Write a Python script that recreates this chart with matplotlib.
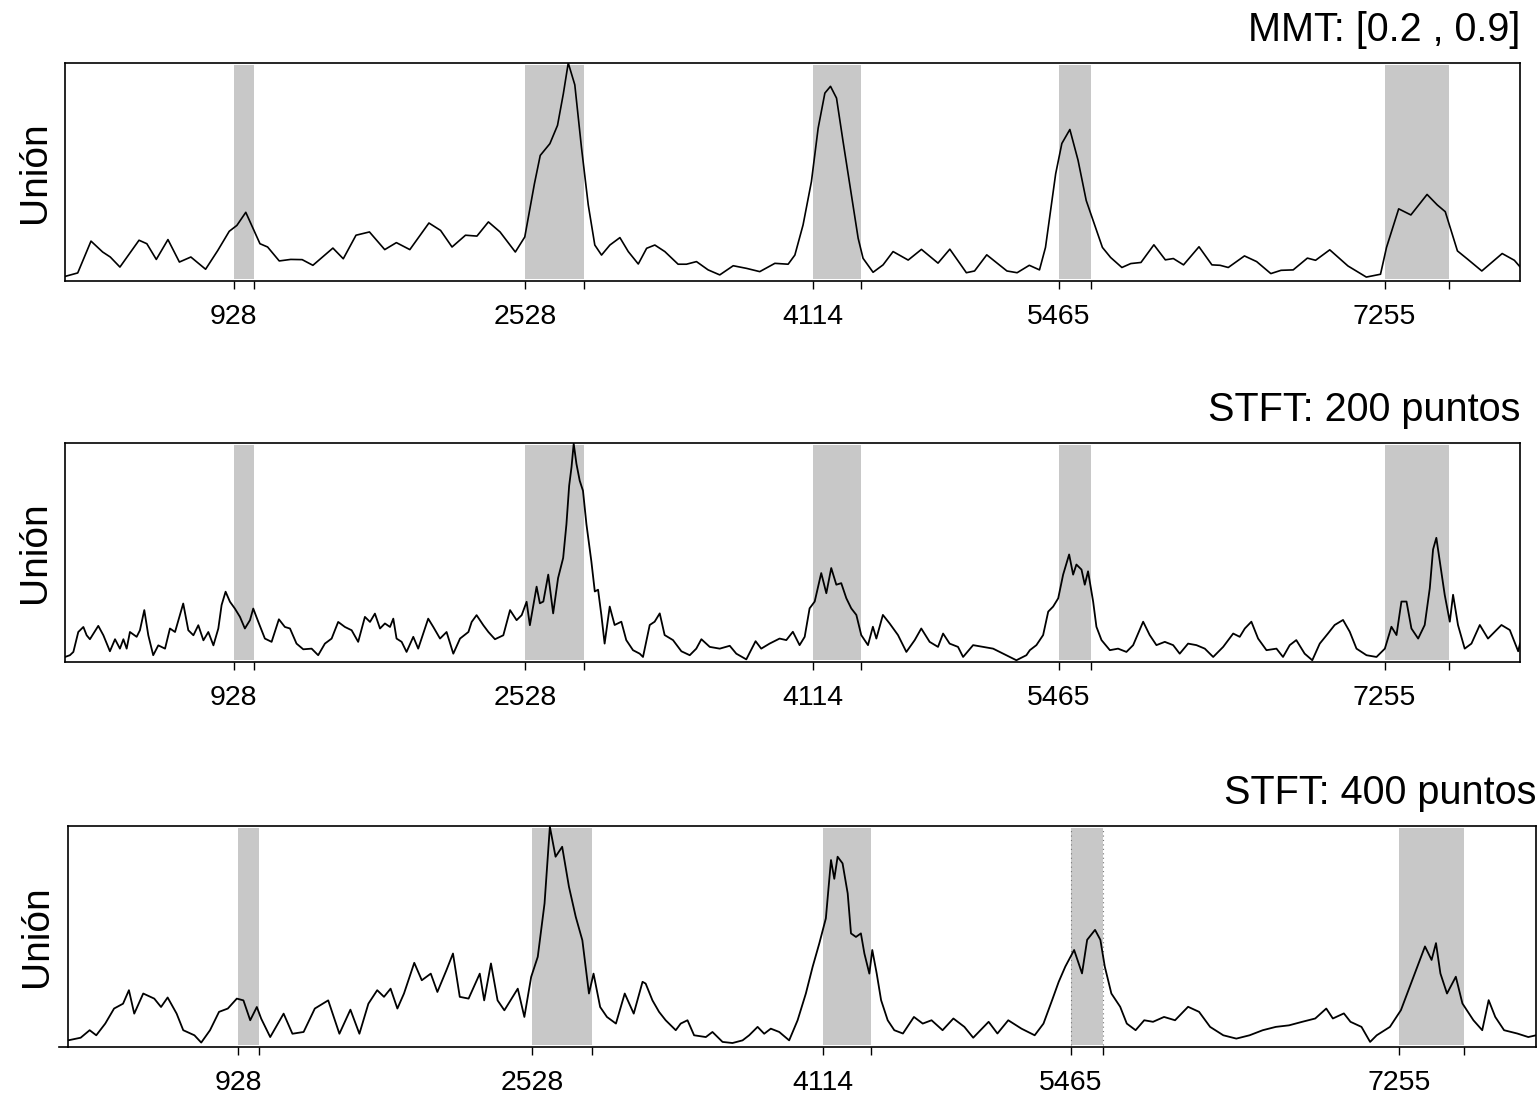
import numpy as np
import matplotlib.pyplot as plt

plt.rcParams['font.family'] = ['Liberation Sans', 'DejaVu Sans']

# shaded event windows (start, end) -- same in all three panels
region_start = [928, 2528, 4114, 5465, 7255]
region_end = [1039, 2855, 4378, 5643, 7608]

# MMT [0.2, 0.9] (smooth curve, 0-100 scale)
mmt_x = [0, 70, 143, 207, 249, 302, 407, 450, 502, 566, 629, 692, 773, 840, 903, 945, 994,
         1030, 1072, 1114, 1178, 1241, 1304, 1363, 1473, 1530, 1600, 1674, 1758, 1822, 1896,
         2001, 2065, 2128, 2202, 2265, 2328, 2392, 2476, 2528, 2581, 2613, 2666, 2708, 2740,
         2767, 2803, 2840, 2877, 2913, 2950, 2996, 3051, 3097, 3152, 3198, 3243, 3298, 3371,
         3417, 3472, 3536, 3600, 3674, 3747, 3820, 3903, 3976, 4013, 4058, 4104, 4141, 4178,
         4209, 4242, 4278, 4324, 4361, 4388, 4443, 4498, 4553, 4636, 4709, 4800, 4865, 4956,
         5001, 5068, 5179, 5235, 5302, 5358, 5391, 5447, 5481, 5525, 5570, 5615, 5659, 5704,
         5749, 5811, 5860, 5916, 5987, 6050, 6094, 6150, 6235, 6306, 6351, 6396, 6485, 6552,
         6630, 6686, 6753, 6831, 6876, 6954, 7054, 7155, 7233, 7266, 7333, 7400, 7489, 7545,
         7589, 7656, 7712, 7790, 7902, 7969, 8000]
mmt_y = [2.1, 3.7, 18.3, 13.3, 11, 6.4, 18.7, 17.1, 9.9, 19, 8.7, 11, 5.4, 14, 22.8, 25.5, 31.5,
         24.8, 17.1, 15.6, 9.2, 9.9, 9.8, 7.2, 15.1, 10.2, 21, 22.5, 14.4, 17.6, 14.4,
         26.6, 23.2, 15.6, 21, 20.6, 27.1, 22.5, 13.3, 20.2, 44.6, 57.6, 63, 71.4, 85.9,
         100, 90, 61, 34.9, 16.5, 11.9, 16.5, 19.9, 13.5, 7.8, 15, 16.5, 13.5, 7.7,
         7.7, 8.9, 5.1, 2.8, 7, 5.8, 4.3, 8.1, 7.7, 11.9, 25.7, 45.6, 70.1, 86.2,
         89.3, 83.9, 64, 39.5, 19.6, 10.4, 4, 7.4, 13.5, 9.6, 14.5, 8.2, 14.6, 3.8,
         4.6, 12, 4.6, 3.8, 7.2, 5.1, 15.4, 49.2, 63.1, 69.5, 55.4, 36.9, 26.2, 15.4,
         10.8, 6.2, 8, 8.5, 16.6, 9.7, 10.3, 7.4, 15.7, 7.4, 7.2, 6.2, 11.5, 8.9,
         3.4, 4.9, 5.1, 10.5, 9.5, 14.3, 6.9, 1.8, 3.1, 15.4, 33.1, 30.3, 39.7, 34.9,
         31.8, 13.8, 10, 4.6, 12.6, 9.5, 6.5]

# STFT 200 puntos
stft200_x = [0, 27, 46, 73, 101, 119, 137, 183, 211, 247, 275, 302, 321, 339, 357, 394, 412, 436,
             458, 485, 513, 550, 577, 605, 650, 678, 706, 733, 761, 788, 816, 843, 861, 883, 907,
             934, 962, 989, 1017, 1035, 1063, 1099, 1136, 1176, 1209, 1237, 1273, 1310, 1356,
             1392, 1429, 1466, 1502, 1539, 1576, 1612, 1649, 1677, 1704, 1732, 1759, 1787, 1805,
             1823, 1851, 1878, 1915, 1942, 1970, 1997, 2025, 2062, 2098, 2135, 2172, 2218, 2236,
             2263, 2300, 2328, 2364, 2410, 2447, 2483, 2511, 2538, 2556, 2593, 2611, 2630, 2657,
             2684, 2711, 2739, 2757, 2772, 2785, 2797, 2812, 2830, 2848, 2867, 2894, 2913, 2931,
             2949, 2967, 2995, 3022, 3059, 3086, 3123, 3160, 3178, 3215, 3242, 3270, 3297, 3343,
             3389, 3435, 3471, 3499, 3545, 3600, 3655, 3691, 3746, 3797, 3828, 3874, 3929, 3966,
             4002, 4039, 4067, 4094, 4122, 4158, 4186, 4213, 4241, 4268, 4296, 4323, 4351, 4378,
             4415, 4442, 4461, 4497, 4534, 4580, 4626, 4672, 4708, 4754, 4800, 4828, 4864, 4910,
             4938, 4993, 5048, 5103, 5158, 5231, 5286, 5305, 5341, 5378, 5406, 5433, 5461, 5488,
             5521, 5543, 5561, 5589, 5607, 5625, 5653, 5671, 5699, 5745, 5790, 5836, 5873, 5928,
             5964, 6001, 6047, 6093, 6129, 6175, 6221, 6267, 6313, 6368, 6423, 6459, 6487, 6523,
             6560, 6606, 6661, 6697, 6734, 6770, 6816, 6858, 6899, 6944, 6981, 7027, 7064, 7101,
             7156, 7211, 7257, 7293, 7321, 7348, 7376, 7403, 7440, 7476, 7504, 7522, 7540, 7559,
             7586, 7614, 7632, 7659, 7696, 7733, 7779, 7824, 7898, 7944, 7990, 8000]
stft200_y = [2.3, 3.1, 4.6, 13.7, 16, 12.2, 10.4, 16.5, 12.2, 4.9, 10.4, 6.1, 10.4, 6.1, 13.7, 11.5, 14.5, 23.7,
             12.2, 3.1, 7.6, 6.1, 15.3, 13.7, 26.7, 14.5, 12.2, 16.8, 9.9, 13.7, 7.6, 15.3, 26, 32.1, 27.5,
             24.4, 20.6, 15.3, 19.1, 24.4, 18.3, 10.7, 9.2, 19.5, 16, 15.3, 8.4, 5.8, 6.1,
             3.1, 8.4, 10.7, 18.3, 16, 14.5, 9.2, 20.6, 18.3, 22.1, 15.3, 17.6, 16, 19.8,
             10.7, 9.2, 4.6, 11.5, 6.1, 13, 19.8, 16, 10.7, 13.7, 3.8, 10.7, 13.7, 18.3,
             21.4, 16.8, 13.7, 10.4, 12.2, 23.7, 19.1, 21.4, 27.5, 16.8, 34.4, 26.8, 27.6, 39.9,
             22.2, 38.3, 47.5, 62.9, 80.5, 89, 99.7, 90.5, 82.8, 78.2, 62.9, 46, 32.2, 33,
             21.5, 8.4, 25.3, 16.9, 18.4, 10, 5.4, 3.8, 2.3, 16.9, 18.4, 22.2, 12.3, 10,
             4.9, 3.1, 6.1, 10.4, 6.9, 6.1, 7.4, 3.8, 1.2, 9.5, 6.1, 8.4, 10.7, 10,
             13.8, 7.7, 11.5, 24.5, 27.6, 40.6, 31.4, 42.9, 35.3, 36, 29.1, 24.5, 21.5, 12.3,
             7.7, 16.1, 10.7, 21.5, 17.6, 12.3, 4.6, 10, 15.3, 9.2, 6.9, 13, 8.4, 6.9,
             2.3, 7.7, 6.9, 6.1, 3.8, 0.8, 3.1, 5.4, 7.7, 12.3, 23, 25.3, 29.1, 39.9,
             49.1, 39.9, 44.5, 42.2, 35.3, 41.4, 27.6, 16.1, 10, 5.4, 6.1, 4.6, 7.7, 18.4,
             12.3, 7.7, 9.2, 7.7, 3.8, 8.4, 7.7, 6.1, 2.3, 6.9, 13, 11.5, 15.3, 18.4,
             10.7, 5.4, 6.1, 2.3, 7.7, 10, 3.8, 0.8, 8.4, 13, 16.9, 19.2, 13.8, 6.1,
             3.1, 2.3, 6.1, 16.1, 12.3, 27.6, 27.6, 15.3, 10.7, 16.9, 33.7, 51.4, 56.7, 46,
             30.7, 18.4, 30.7, 16.9, 6.1, 8.4, 16.9, 10.7, 16.9, 14.6, 4.9, 8.4]

# STFT 400 puntos
stft400_x = [0, 69, 118, 154, 203, 251, 300, 332, 361, 410, 470, 507, 543, 592, 628, 689, 726, 774,
             823, 871, 920, 956, 993, 1029, 1053, 1102, 1175, 1223, 1284, 1345, 1418, 1479, 1539,
             1588, 1637, 1685, 1722, 1758, 1795, 1831, 1887, 1928, 1977, 2013, 2062, 2098, 2135,
             2183, 2244, 2268, 2305, 2341, 2378, 2451, 2487, 2524, 2560, 2597, 2626, 2657, 2693,
             2730, 2767, 2803, 2839, 2864, 2900, 2937, 2986, 3034, 3083, 3131, 3148, 3185, 3221,
             3257, 3312, 3339, 3376, 3412, 3476, 3512, 3567, 3621, 3676, 3712, 3758, 3794, 3830,
             3876, 3930, 3976, 4021, 4058, 4094, 4130, 4158, 4176, 4194, 4221, 4249, 4267, 4294,
             4321, 4340, 4367, 4383, 4407, 4431, 4467, 4503, 4550, 4610, 4658, 4706, 4766, 4825,
             4885, 4933, 5017, 5065, 5124, 5196, 5268, 5316, 5363, 5399, 5435, 5483, 5526, 5554,
             5597, 5626, 5650, 5686, 5734, 5770, 5818, 5865, 5913, 5973, 6033, 6104, 6164, 6224,
             6296, 6367, 6439, 6511, 6582, 6654, 6726, 6797, 6857, 6893, 6953, 6989, 7049, 7096,
             7132, 7204, 7264, 7312, 7360, 7395, 7431, 7455, 7479, 7515, 7563, 7599, 7659, 7707,
             7742, 7778, 7826, 7898, 7958, 8000]
stft400_y = [3, 4.2, 7.6, 5.3, 10.6, 17.4, 19.6, 25.7, 15.1, 24.2, 21.9, 18.1, 22.4, 15.1, 7.6, 5.3, 2, 7.6,
             15.9, 17.4, 21.9, 21.1, 12.1, 18.1, 12.8, 4.5, 15.1, 6, 6.8, 17.4, 21.1, 6, 16.9,
             6, 19.6, 25.7, 22.7, 26.4, 17.4, 24.2, 38.1, 30.2, 33.2, 24.9, 34.7, 42.3, 22.7,
             21.9, 33.2, 21.1, 37.8, 21.1, 16.6, 26.4, 13.6, 31.7, 40.8, 65, 99.7, 86.1, 90.6,
             72.5, 58.9, 48.3, 24.2, 33.2, 18.1, 13.6, 10.6, 24.2, 15.1, 29.5, 28.7, 21.1, 15.9,
             12.1, 7.6, 10.6, 12.1, 5.3, 4.5, 6.8, 2.3, 1.8, 3, 5.3, 9.1, 6, 8.3,
             6.8, 3, 12.1, 24.2, 36.3, 46.8, 58.2, 84.6, 76.1, 86.1, 83.1, 69.5, 51.4, 49.8,
             51.4, 42.3, 33.2, 43.9, 33.3, 21.2, 12.1, 7.6, 6.1, 13.6, 10.6, 12.1, 7.6, 12.9,
             9.1, 4.2, 11.4, 6.1, 12.1, 8.3, 5.3, 10.6, 21.2, 29.5, 36.4, 43.9, 33.3, 48.5,
             53, 48.5, 36.4, 24.2, 18.2, 10.6, 7.6, 12.1, 11.4, 13.6, 12.1, 18.2, 15.9, 9.1,
             5.3, 3.8, 5.3, 7.6, 9.1, 9.8, 11.4, 12.9, 17.4, 12.9, 15.2, 11.4, 9.1, 2.3,
             5.3, 9.1, 16.7, 27.3, 37.9, 45.5, 39.4, 47, 33.3, 24.2, 31.8, 19.7, 12.1, 7.6,
             21.2, 13.6, 7.6, 6.1, 4.5, 5.3]

titles = ["MMT: [0.2 , 0.9]", "STFT: 200 puntos", "STFT: 400 puntos"]

W, H = 1537, 1094
fig = plt.figure(figsize=(W / 100, H / 100), dpi=100)

# axes boxes in pixels: left, top, right, bottom
boxes = [(65, 63, 1520, 281), (65, 443, 1520, 662), (68, 826, 1536, 1047)]
series = [(mmt_x, mmt_y), (stft200_x, stft200_y), (stft400_x, stft400_y)]

for i, ((l, t, r, b), (xs, ys), title) in enumerate(zip(boxes, series, titles)):
    ax = fig.add_axes([l / W, (H - b) / H, (r - l) / W, (b - t) / H])
    for s, e in zip(region_start, region_end):
        ax.axvspan(s, e, ymin=0.01, ymax=0.99, color='#C8C8C8', lw=0, zorder=1)
    if i == 2:
        # dotted borders on the 4th window of the last panel
        ax.axvline(region_start[3], ymin=0.01, ymax=0.99, color='#777777', ls=(0, (1, 3)), lw=0.8)
        ax.axvline(region_end[3], ymin=0.01, ymax=0.99, color='#777777', ls=(0, (1, 3)), lw=0.8)
        # axis line in the last panel pokes out a bit on the left
        ax.plot([-0.006, 0], [0, 0], transform=ax.transAxes, color='black', lw=1.2, clip_on=False)
    lw = 1.2 if i == 0 else 1.3
    ax.plot(xs, ys, color='black', lw=lw, zorder=3, solid_joinstyle='round')
    ax.set_xlim(0, 8000)
    ax.set_ylim(0, 100)
    ax.set_yticks([])
    ax.set_xticks(region_start)
    ax.set_xticklabels([str(v) for v in region_start], fontsize=20.5)
    ax.set_xticks(region_end, minor=True)
    ax.tick_params(axis='x', which='both', direction='out', length=5.4, width=1.0, pad=11)
    for sp in ax.spines.values():
        sp.set_linewidth(1.2)
    ax.set_ylabel("Unión", fontsize=28, labelpad=9)
    ax.annotate(title, xy=(1, 1), xycoords='axes fraction', xytext=(0, 16),
                textcoords='offset points', ha='right', va='baseline', fontsize=28.5)

fig.savefig('out.png', dpi=100)
